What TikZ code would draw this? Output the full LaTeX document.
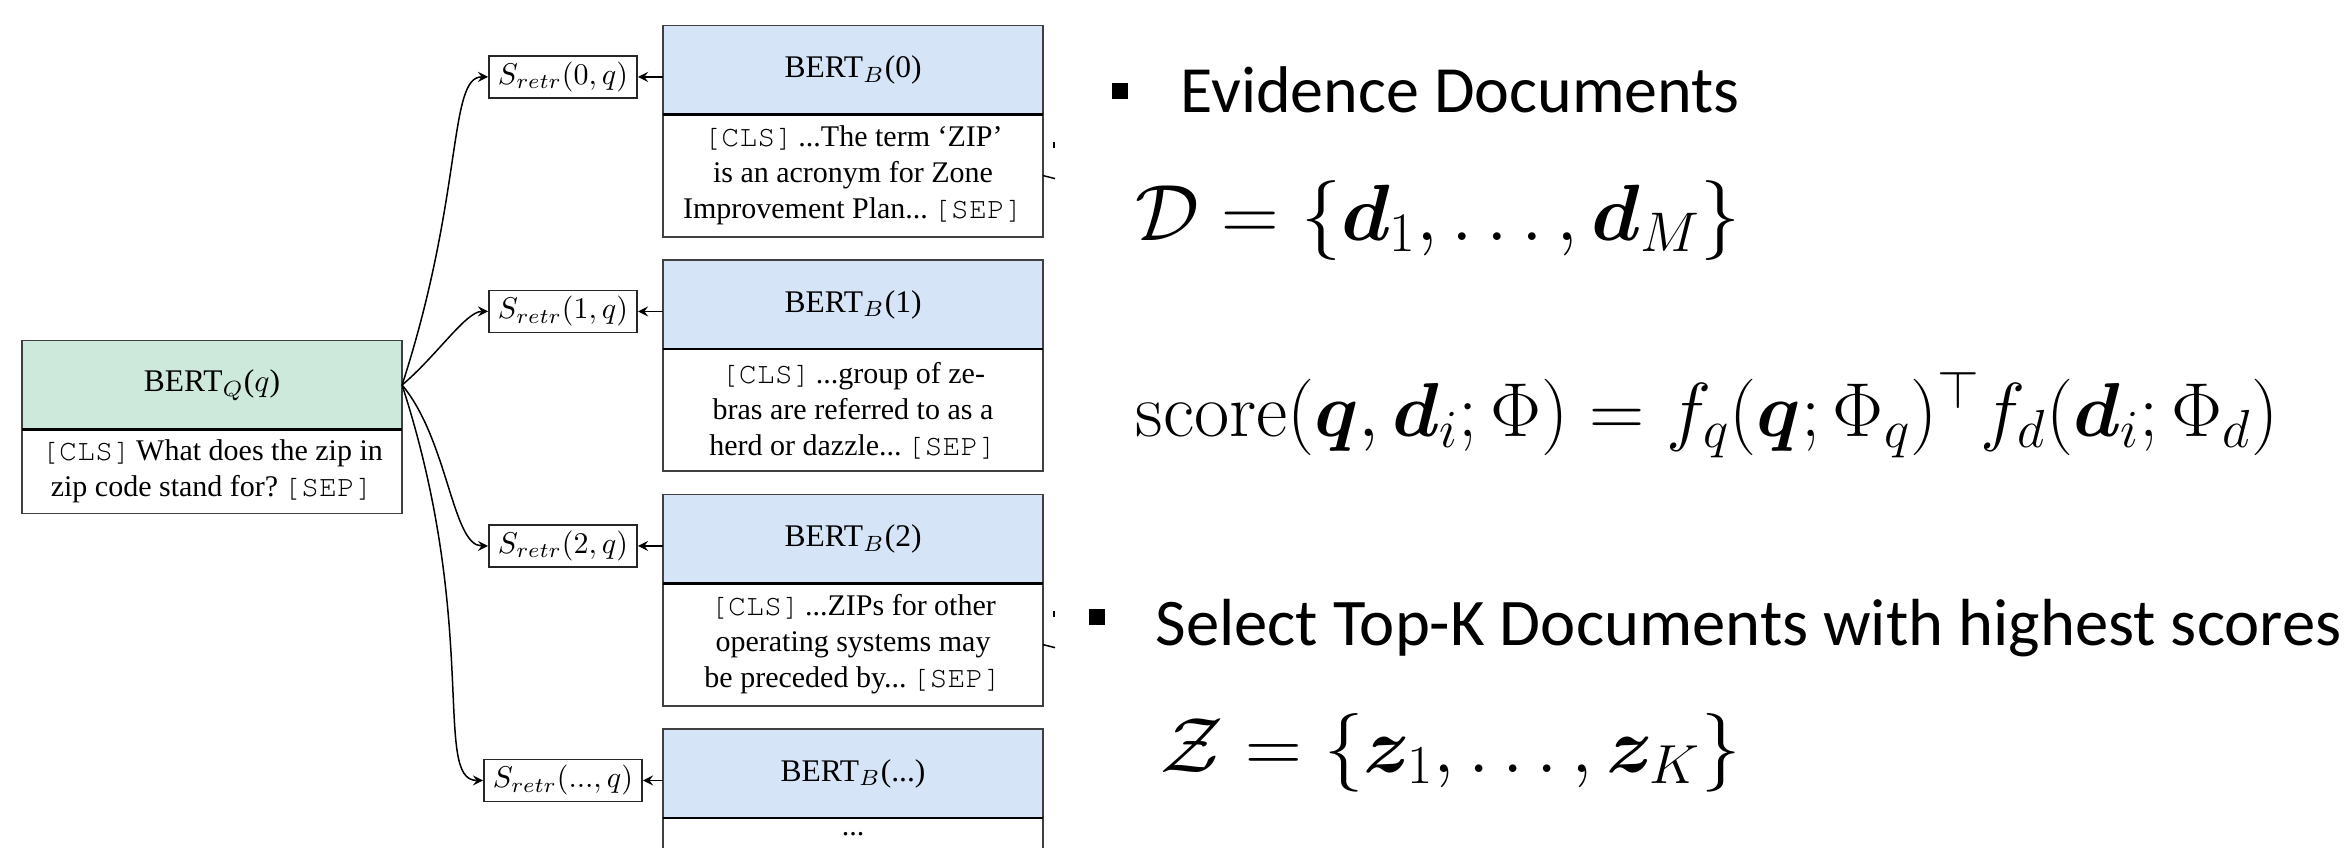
\documentclass[tikz,border=0pt]{standalone}
\usepackage{fix-cm}
\usepackage[T1]{fontenc}
\usepackage[no-math]{fontspec}
\setmainfont{Liberation Serif}
\setmonofont{Liberation Mono}
\newfontfamily\slidefont{Carlito}
\usepackage{bm}
\usetikzlibrary{positioning}
\definecolor{qgreen}{RGB}{205,233,220}
\definecolor{dblue}{RGB}{214,228,248}
\newcommand{\tok}[1]{{\fontencoding{T1}\fontfamily{pcr}\selectfont #1}}
\newcommand{\clstok}{\tok{[CLS]}\,}
\newcommand{\septok}{\,\tok{[SEP]}}

\begin{document}
\begin{tikzpicture}[x=0.3333pt,y=0.3333pt,
    box/.style={draw=black!75,line width=0.6pt,outer sep=0pt,inner sep=0pt,
        minimum width=126.7pt,align=center,font=\fontsize{10}{12}\selectfont},
    head/.style={box,minimum height=29.7pt,font=\fontsize{10.5}{12}\selectfont},
    body/.style={box,fill=white,minimum height=40.7pt},
    scorebox/.style={draw=black!85,line width=0.6pt,minimum height=14pt,
        inner xsep=3pt,inner ysep=1.5pt,yshift=-2.3pt,font=\fontsize{10}{12}\selectfont},
    link/.style={->,>=stealth,line width=0.5pt},
    slide/.style={anchor=base west,inner sep=0pt,font=\slidefont\fontsize{22}{26}\selectfont}]

    \useasboundingbox (0,0) rectangle (2350,-847);
    \clip (0,0) rectangle (2350,-847);

    % query side
    \node[head,fill=qgreen] (bq) at (212,-385) {BERT$_Q$($q$)};
    \node[box,minimum height=28pt,below=0pt of bq] (tq) {\clstok What does the zip in\\zip code stand for?\septok};
    \draw[line width=0.8pt] (bq.south west) -- (bq.south east);

    % evidence blocks
    \node[head,fill=dblue] (b0) at (853,-70) {BERT$_B$(0)};
    \node[body,below=0pt of b0] (t0) {\clstok...The term `ZIP'\\is an acronym for Zone\\Improvement Plan...\septok};
    \node[head,fill=dblue] (b1) at (853,-304.5) {BERT$_B$(1)};
    \node[body,below=0pt of b1] (t1) {\clstok...group of ze-\\bras are referred to as a\\herd or dazzle...\septok};
    \node[head,fill=dblue] (b2) at (853,-539) {BERT$_B$(2)};
    \node[body,below=0pt of b2] (t2) {\clstok...ZIPs for other\\operating systems may\\be preceded by...\septok};
    \node[head,fill=dblue] (b3) at (853,-773.5) {BERT$_B$(...)};
    \node[body,below=0pt of b3,text depth=30pt] (t3) {...};
    \foreach \b in {b0,b1,b2,b3}{
    \draw[line width=0.8pt] (\b.south west) -- (\b.south east);
    }

    % scores
    \coordinate (sx) at (563,0);
    \node[scorebox] (s0) at (sx |- b0) {$S_{retr}(0,q)$};
    \node[scorebox] (s1) at (sx |- b1) {$S_{retr}(1,q)$};
    \node[scorebox] (s2) at (sx |- b2) {$S_{retr}(2,q)$};
    \node[scorebox] (s3) at (sx |- b3) {$S_{retr}(...,q)$};
    \draw[link] (bq.east) to[out=72,in=180,out looseness=1.6,in looseness=0.32] (s0.west);
    \draw[link] (bq.east) to[out=40,in=180,in looseness=0.5] (s1.west);
    \draw[link] (bq.east) to[out=-50,in=180,in looseness=0.5] (s2.west);
    \draw[link] (bq.east) to[out=-72,in=180,out looseness=1.6,in looseness=0.32] (s3.west);
    \foreach \i in {0,...,3}{
    \draw[link] (s\i.east -| b\i.west) -- (s\i.east);
    }

    % cut-off connectors on the right
    \foreach \t in {t0,t2}{
    \draw[line width=0.5pt] (\t.east) -- ++(12,-3);
    \draw[line width=0.7pt] (\t.east) ++(11,34) -- ++(0,-6);
    }

    % slide text
    \node[fill=black,minimum size=5.5pt,inner sep=0pt] (m1) at (1120,-91) {};
    \node[slide] (ev) at (1180,-112) {Evidence Documents};
    \node[anchor=base west,inner sep=0pt,font=\fontsize{26.6}{30}\selectfont] (dset) at (1135,-240)
        {$\mathcal{D}=\{\bm{d}_1,\ldots,\bm{d}_M\}$};
    \node[anchor=base west,inner sep=0pt,font=\fontsize{25.5}{28}\selectfont] (sc) at (1135,-436)
        {$\mathrm{score}(\bm{q},\bm{d}_i;\Phi)=f_q(\bm{q};\Phi_q)^\top f_d(\bm{d}_i;\Phi_d)$};
    \node[fill=black,minimum size=5.5pt,inner sep=0pt] (m2) at (1097,-617) {};
    \node[slide,font=\slidefont\fontsize{22.2}{26}\selectfont] (top) at (1155,-645) {Select Top-K Documents with highest scores};
    \node[anchor=base west,inner sep=0pt,font=\fontsize{26.2}{30}\selectfont] (zset) at (1160,-772)
        {$\mathcal{Z}=\{\bm{z}_1,\ldots,\bm{z}_K\}$};
\end{tikzpicture}
\end{document}
